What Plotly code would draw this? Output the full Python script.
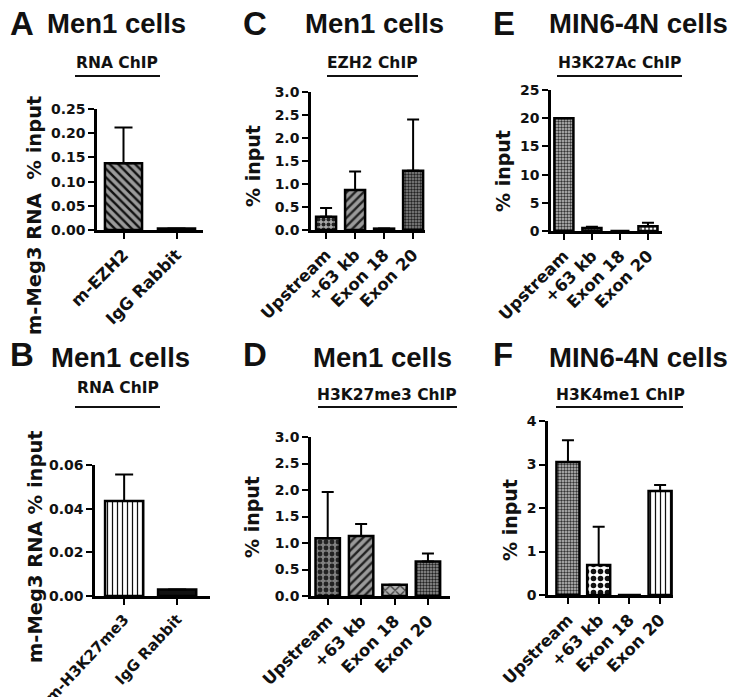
import plotly.graph_objects as go

W, H = 746, 697
OFF = 8  # page body margin of the written html

# ---------------- data ----------------
a_cats = ["m-EZH2", "IgG Rabbit"]
a_vals = [0.138, 0.003]
a_upper = [0.212, None]

b_cats = ["m-H3K27me3", "IgG Rabbit"]
b_vals = [0.0435, 0.003]
b_upper = [0.0557, None]

sites = ["Upstream", "+63 kb", "Exon 18", "Exon 20"]

c_vals = [0.29, 0.87, 0.03, 1.29]
c_upper = [0.48, 1.27, None, 2.40]

d_vals = [1.09, 1.13, 0.21, 0.65]
d_upper = [1.96, 1.36, None, 0.80]

e_vals = [20.0, 0.55, 0.0, 0.85]
e_upper = [None, 0.75, None, 1.45]

f_vals = [3.06, 0.69, 0.0, 2.39]
f_upper = [3.56, 1.57, None, 2.53]

SMALL = "DejaVu Sans"
BIG = "Liberation Sans"

def fx(px):
    return (px - OFF) / W

def fy(py):
    return 1 - (py - OFF) / H

def xd(p0, p1):
    return [fx(p0), fx(p1)]

def yd(top, bot):
    return [fy(bot), fy(top)]

panels = [
    dict(cats=a_cats, vals=a_vals, up=a_upper, xdom=xd(97, 203), xr=[-0.5, 1.5],
         ydom=yd(109, 230), yr=[0, 0.25], dt=0.05, fmt=".2f", width=0.7, cap=9, xfs=16.5, xang=-45,
         shapes=["\\", "."], fg=["#111", "#111"], bg=["#9a9a9a", "#111"], sz=[6, 8], so=[0.4, 0.3]),
    dict(cats=b_cats, vals=b_vals, up=b_upper, xdom=xd(95, 210), xr=[-0.55, 1.62],
         ydom=yd(465, 596), yr=[0, 0.06], dt=0.02, fmt=".2f", width=0.72, cap=9, xfs=15, xang=-47,
         shapes=["|", "."], fg=["#111", "#111"], bg=["white", "#111"], sz=[5, 8], so=[0.25, 0.3]),
    dict(cats=sites, vals=c_vals, up=c_upper, xdom=xd(311, 425), xr=[-0.52, 3.41],
         ydom=yd(92, 230), yr=[0, 3], dt=0.5, fmt=".1f", width=0.69, cap=6, xfs=16.5, xang=-45,
         shapes=[".", "/", ".", "."], fg=["#222", "#222", "#222", "#222"],
         bg=["#a8a8a8", "#9a9a9a", "#222", "#8a8a8a"], sz=[5, 6, 6, 3], so=[0.5, 0.4, 0.3, 0.5]),
    dict(cats=sites, vals=d_vals, up=d_upper, xdom=xd(311, 450), xr=[-0.5, 3.66],
         ydom=yd(437, 596), yr=[0, 3], dt=0.5, fmt=".1f", width=0.73, cap=6, xfs=16.5, xang=-45,
         shapes=[".", "/", "x", "."], fg=["#222", "#222", "#222", "#222"],
         bg=["#808080", "#9a9a9a", "#b0b0b0", "#9a9a9a"], sz=[6, 6, 7, 3], so=[0.5, 0.4, 0.3, 0.5]),
    dict(cats=sites, vals=e_vals, up=e_upper, xdom=xd(551, 662), xr=[-0.46, 3.5],
         ydom=yd(90, 231), yr=[0, 25], dt=5, fmt="d", width=0.68, cap=6, xfs=16.5, xang=-45,
         shapes=[".", ".", ".", "|"], fg=["#333", "#333", "#333", "#111"],
         bg=["#c4c4c4", "#c4c4c4", "white", "white"], sz=[3, 3, 3, 4], so=[0.5, 0.5, 0.3, 0.3]),
    dict(cats=sites, vals=f_vals, up=f_upper, xdom=xd(548, 673), xr=[-0.65, 3.42],
         ydom=yd(421, 595), yr=[0, 4], dt=1, fmt="d", width=0.75, cap=6, xfs=16.5, xang=-45,
         shapes=[".", ".", ".", "|"], fg=["#333", "#111", "#111", "#111"],
         bg=["#c4c4c4", "white", "white", "white"], sz=[3, 7, 3, 5], so=[0.5, 0.5, 0.3, 0.25]),
]

fig = go.Figure()
layout = dict(template="none", width=W, height=H, autosize=False,
              margin=dict(l=0, r=0, t=0, b=0, pad=0),
              paper_bgcolor="white", plot_bgcolor="rgba(0,0,0,0)", showlegend=False)

for i, p in enumerate(panels):
    n = i + 1
    xa = "x" if n == 1 else f"x{n}"
    ya = "y" if n == 1 else f"y{n}"
    plus = [None if u is None else u - v for u, v in zip(p["up"], p["vals"])]
    minus = [None if u is None else 0 for u in p["up"]]
    fig.add_trace(go.Bar(
        x=p["cats"], y=p["vals"], xaxis=xa, yaxis=ya, width=p["width"],
        marker=dict(color="white", line=dict(color="black", width=2.5),
                    pattern=dict(shape=p["shapes"], fgcolor=p["fg"], bgcolor=p["bg"],
                                 size=p["sz"], solidity=p["so"], fillmode="replace",
                                 fgopacity=1)),
        error_y=dict(type="data", symmetric=False, array=plus, arrayminus=minus,
                     color="black", thickness=2, width=p["cap"]),
        hoverinfo="skip",
    ))
    xkey = "xaxis" if n == 1 else f"xaxis{n}"
    ykey = "yaxis" if n == 1 else f"yaxis{n}"
    layout[xkey] = dict(domain=p["xdom"], anchor=ya, range=p["xr"], type="category",
                        automargin=False,
                        showline=True, linewidth=2.5, linecolor="black", ticks="outside",
                        ticklen=6, tickwidth=2, tickcolor="black", tickangle=p["xang"],
                        tickfont=dict(family=SMALL, size=p["xfs"], color="#111", weight="bold"),
                        showgrid=False, zeroline=False, fixedrange=True)
    layout[ykey] = dict(domain=p["ydom"], anchor=xa, range=p["yr"], dtick=p["dt"], tick0=0,
                        automargin=False,
                        tickformat=p["fmt"], showline=True, linewidth=2.5, linecolor="black",
                        ticks="outside", ticklen=6, tickwidth=2, tickcolor="black",
                        tickfont=dict(family=SMALL, size=14, color="#111", weight="bold"),
                        showgrid=False, zeroline=False, fixedrange=True)

annotations = []
shapes = []

def ann(text, x, y, size, family, xanchor="center", angle=0):
    annotations.append(dict(text=text, x=fx(x), y=fy(y), xref="paper", yref="paper",
                            xanchor=xanchor, yanchor="middle", showarrow=False, textangle=angle,
                            font=dict(family=family, size=size, color="#111", weight="bold")))

# panel letters and titles
heads = [
    ("A", 8, 24, "Men1 cells", 45, 24),
    ("C", 241, 24, "Men1 cells", 303, 24),
    ("E", 491, 24, "MIN6-4N cells", 547, 24),
    ("B", 8, 355, "Men1 cells", 49, 357),
    ("D", 241, 355, "Men1 cells", 311, 357),
    ("F", 491, 355, "MIN6-4N cells", 547, 357),
]
for letter, lx, ly, title, tx, ty in heads:
    ann(letter, lx, ly, 33, BIG, xanchor="left")
    ann(title, tx, ty, 27.5, BIG, xanchor="left")

subs = [
    ("RNA ChIP", 117, 63, 75, 160, 76),
    ("EZH2 ChIP", 372, 63, 327, 418, 76),
    ("H3K27Ac ChIP", 619, 63, 557, 682, 76),
    ("RNA ChIP", 118, 388, 75, 160, 407),
    ("H3K27me3 ChIP", 387, 395, 318, 457, 407),
    ("H3K4me1 ChIP", 620, 395, 556, 683, 407),
]
for text, cx, cy, u0, u1, uy in subs:
    ann(text, cx, cy, 15.5, SMALL)
    shapes.append(dict(type="line", xref="paper", yref="paper", x0=fx(u0), x1=fx(u1),
                       y0=fy(uy), y1=fy(uy), line=dict(color="#111", width=2)))

# y-axis titles
ytitles = [
    ("m-Meg3 RNA  % input", 35, 216, 19.5),
    ("% input", 253, 166, 19),
    ("% input", 503, 171, 19),
    ("m-Meg3 RNA % input", 35, 547, 19.5),
    ("% input", 252, 517, 19),
    ("% input", 510, 520, 19),
]
for text, cx, cy, sz in ytitles:
    ann(text, cx, cy, sz, SMALL, angle=-90)

layout["annotations"] = annotations
layout["shapes"] = shapes
fig.update_layout(**layout)
fig.write_html("out.html")
